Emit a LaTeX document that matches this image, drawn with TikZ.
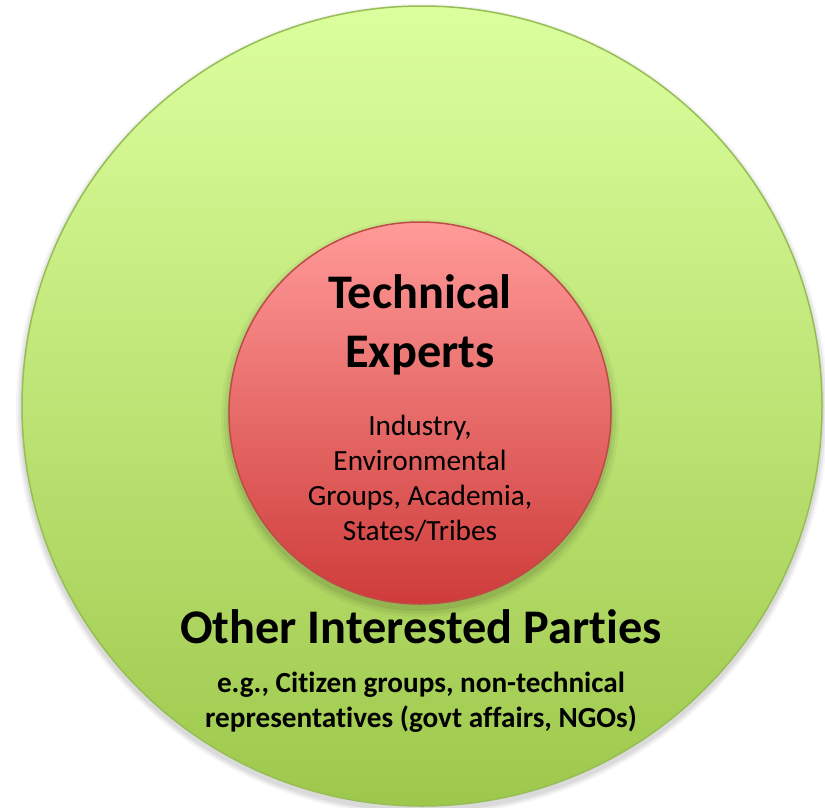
\documentclass[tikz,border=0pt]{standalone}
\usepackage{fontspec}
\setmainfont{Carlito}[RawFeature={-liga}]
\definecolor{gtop}{RGB}{220,255,158}
\definecolor{gbot}{RGB}{158,200,76}
\definecolor{gline}{RGB}{150,190,85}
\definecolor{rtop}{RGB}{255,154,152}
\definecolor{rbot}{RGB}{206,60,58}
\definecolor{rline}{RGB}{190,75,72}
\tikzset{
  ring/.style={circle, inner sep=0pt, line width=1.5pt},
  bigtitle/.style={font=\fontsize{48.3}{59}\selectfont\bfseries, align=center, inner sep=0pt},
  smalltext/.style={font=\fontsize{29.3}{34.7}\selectfont, align=center, inner sep=0pt},
  subtext/.style={font=\fontsize{29.2}{35}\selectfont\bfseries, align=center, inner sep=0pt}
}
\begin{document}
\begin{tikzpicture}[x=1pt,y=-1pt]
\useasboundingbox (0,0) rectangle (825,807);
\fill[white] (0,0) rectangle (825,807);
% outer shadow
\foreach \d/\o in {6/0.04,4/0.05,2/0.06}{
  \fill[black,opacity=\o] (422,410) circle ({400+\d});
}
\node[ring, minimum size=800pt, top color=gtop, bottom color=gbot, draw=gline] (outer) at (422,406) {};
% inner shadow
\foreach \d/\o in {8/0.04,5/0.05,2/0.07}{
  \fill[black,opacity=\o] (420,418) circle ({191+\d});
}
\node[ring, minimum size=382pt, top color=rtop, bottom color=rbot, draw=rline] (inner) at (420,413) {};
\node[bigtitle, anchor=base] (tech) at (420,367) {Technical\\Experts};
\node[smalltext, anchor=base] (list) at (420,540) {Industry,\\Environmental\\Groups, Academia,\\States/Tribes};
\node[bigtitle, anchor=base] (other) at (421,643) {Other Interested Parties};
\node[subtext, anchor=base] (eg) at (421,727) {e.g., Citizen groups, non-technical\\representatives (govt affairs, NGOs)};
\end{tikzpicture}
\end{document}
